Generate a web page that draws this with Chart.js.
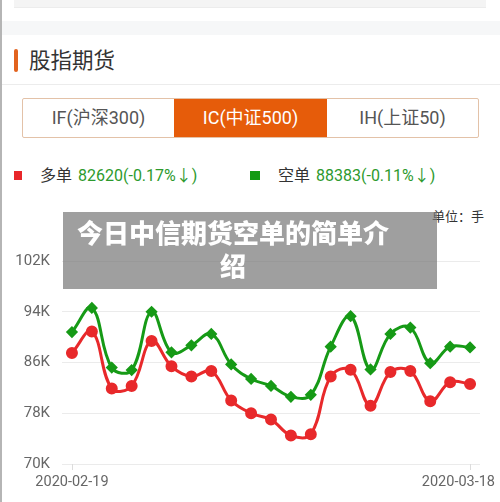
<!DOCTYPE html>
<html>
<head>
<meta charset="utf-8">
<script src="https://cdn.jsdelivr.net/npm/chart.js@4/dist/chart.umd.min.js"></script>
<style>
  html, body { margin: 0; padding: 0; background: #fff; }
  body { width: 500px; height: 502px; position: relative; overflow: hidden;
         font-family: Roboto, "Noto Sans CJK SC", sans-serif; color: #333; }
  .edge { position: absolute; left: 0; top: 0; width: 2px; height: 502px; background: #b5b5b5; }
  .topbox { position: absolute; left: 14px; top: 0; width: 472px; height: 7px; background: #f4f4f4; border-bottom: 1px solid #ececec; }
  .band { position: absolute; left: 2px; top: 21px; width: 498px; height: 14px; background: #f6f7f8; }
  .bar { position: absolute; left: 14px; top: 49px; width: 4px; height: 23px; border-radius: 2px; background: #e2631e; }
  .title { position: absolute; left: 29px; top: 45px; font-size: 21.5px; line-height: 28px; color: #333;
           font-family: "Noto Sans CJK SC", sans-serif; }
  .sep { position: absolute; left: 2px; top: 84px; width: 498px; height: 1px; background: #ececec; }
  .tabs { position: absolute; left: 22px; top: 98px; width: 455px; height: 38px; border: 1px solid #e3c2a8;
          border-radius: 2px; display: flex; }
  .tab { flex: 0 0 auto; text-align: center; line-height: 38px; font-size: 18px; color: #555;
         font-family: Roboto, "Noto Sans CJK SC", sans-serif; }
  .tab.on { background: #e65c0a; color: #fff; }
  .lg { position: absolute; top: 165px; font-size: 16px; line-height: 22px; white-space: nowrap;
        font-family: Roboto, "Noto Sans CJK SC", sans-serif; }
  .sq { display: inline-block; width: 8px; height: 9px; vertical-align: middle; margin-right: 18px; position: relative; top: -1px; }
  .num { color: #2d9a2d; margin-left: 6px; }
  .unit { position: absolute; left: 432px; top: 206px; font-size: 13px; color: #333;
          font-family: "Noto Sans CJK SC", sans-serif; }
  .wrap { position: absolute; left: 0; top: 240px; width: 500px; height: 262px; }
  .over { position: absolute; left: 63px; top: 212px; width: 374px; height: 77px; background: rgba(118,118,118,0.7); z-index: 5; }
  .over div { position: absolute; left: 10px; top: 3px; width: 320px; text-align: center; color: #fff;
              font-size: 26px; line-height: 33px; font-weight: 900; font-family: "Noto Sans CJK SC", sans-serif; }
</style>
</head>
<body>
<div class="edge"></div>
<div class="topbox"></div>
<div class="band"></div>
<div class="bar"></div>
<div class="title">股指期货</div>
<div class="sep"></div>
<div class="tabs">
  <div class="tab" style="width:151px">IF(沪深300)</div>
  <div class="tab on" style="width:153px">IC(中证500)</div>
  <div class="tab" style="width:151px">IH(上证50)</div>
</div>
<div class="lg" style="left:14px"><span class="sq" style="background:#e8262a"></span>多单<span class="num">82620(-0.17%↓)</span></div>
<div class="lg" style="left:250px"><span class="sq" style="background:#139a13;width:10px"></span>空单<span class="num">88383(-0.11%↓)</span></div>
<div class="unit">单位：手</div>
<div class="over"><div>今日中信期货空单的简单介绍</div></div>
<div class="wrap"><canvas id="myChart" width="500" height="262"></canvas></div>
<script>
// 交易日
const dates = [
    '2020-02-19', '2020-02-20', '2020-02-21', '2020-02-24', '2020-02-25', '2020-02-26', '2020-02-27',
    '2020-02-28', '2020-03-02', '2020-03-03', '2020-03-04', '2020-03-05', '2020-03-06', '2020-03-09',
    '2020-03-10', '2020-03-11', '2020-03-12', '2020-03-13', '2020-03-16', '2020-03-17', '2020-03-18'
];
// 多单
const longPos = [
    87500, 90900, 81900, 82300, 89400, 85400, 83800, 84650, 80000, 78000, 77000,
    74500, 74700, 83800, 84850, 79200, 84500, 84650, 79900, 82900, 82620
];
// 空单
const shortPos = [
    90800, 94600, 85200, 84800, 94000, 87600, 88700, 90500, 85700, 83400, 82300,
    80600, 80900, 88500, 93300, 84900, 90500, 91500, 85900, 88500, 88383
];
const yTicks = [70000, 78000, 86000, 94000, 102000];
const xShown = [0, dates.length - 1];

const xLabels = {
    id: 'xLabels',
    afterDraw(chart) {
        const ctx = chart.ctx;
        const x = chart.scales.x;
        const bottom = chart.chartArea.bottom;
        ctx.save();
        ctx.font = '14.5px Roboto';
        ctx.fillStyle = '#666';
        ctx.strokeStyle = '#dcdcdc';
        ctx.lineWidth = 1;
        ctx.textBaseline = 'middle';
        xShown.forEach(function (i) {
            const px = x.getPixelForValue(i);
            ctx.beginPath();
            ctx.moveTo(Math.round(px) + 0.5, bottom);
            ctx.lineTo(Math.round(px) + 0.5, bottom + 6);
            ctx.stroke();
            const w = ctx.measureText(dates[i]).width;
            let lx = px - w / 2;
            if (lx + w > chart.width - 5) lx = chart.width - 5 - w;
            ctx.textAlign = 'left';
            ctx.fillText(dates[i], lx, bottom + 18);
        });
        ctx.restore();
    }
};

const context = document.getElementById('myChart').getContext('2d');
const myChart = new Chart(context, {
    type: 'line',
    data: {
        labels: dates,
        datasets: [
            {
                label: '空单',
                data: shortPos,
                borderColor: '#169a16',
                backgroundColor: '#169a16',
                borderWidth: 3,
                tension: 0.4,
                pointStyle: 'rectRot',
                pointRadius: 4,
                fill: false
            },
            {
                label: '多单',
                data: longPos,
                borderColor: '#e8292b',
                backgroundColor: '#e8292b',
                borderWidth: 3,
                tension: 0.4,
                pointStyle: 'circle',
                pointRadius: 4.5,
                fill: false
            }
        ]
    },
    options: {
        responsive: false,
        animation: false,
        layout: { padding: { top: 21, right: 20, left: 0, bottom: 0 } },
        plugins: {
            legend: { display: false },
            tooltip: { enabled: false }
        },
        scales: {
            x: {
                offset: true,
                grid: { display: false },
                border: { display: false },
                ticks: { display: false },
                afterFit(scale) { scale.height = 38; }
            },
            y: {
                min: yTicks[0],
                max: yTicks[yTicks.length - 1],
                afterBuildTicks(scale) { scale.ticks = yTicks.map(v => ({ value: v })); },
                ticks: {
                    padding: 12,
                    color: '#666',
                    font: { family: 'Roboto', size: 15 },
                    callback: v => (v / 1000) + 'K'
                },
                grid: { color: '#ebebeb', drawTicks: false },
                border: { display: false },
                afterFit(scale) { scale.width = 62; }
            }
        }
    },
    plugins: [xLabels]
});
</script>
</body>
</html>
